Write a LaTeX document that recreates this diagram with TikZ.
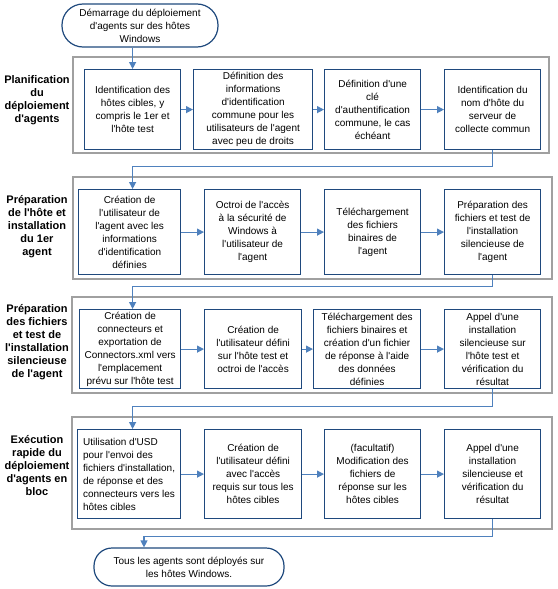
\documentclass[tikz,border=0pt]{standalone}
\usepackage{fontspec}
\newfontfamily\policediag{Liberation Sans}
\usetikzlibrary{arrows.meta}
\definecolor{bleuboite}{RGB}{31,73,125}
\definecolor{bleufleche}{RGB}{79,129,189}
\definecolor{grisgroupe}{RGB}{160,160,160}
\tikzset{
  etape/.style={draw=bleuboite, line width=1.2pt, align=center, anchor=north west,
    inner xsep=2pt, inner ysep=1pt, font=\policediag\fontsize{10}{13}\selectfont},
  terminal/.style={etape, anchor=center},
  groupe/.style={draw=grisgroupe, line width=1.3pt},
  titre/.style={align=center, font=\policediag\bfseries\fontsize{11}{13}\selectfont},
  fleche/.style={draw=bleufleche, line width=1.2pt, -{Triangle[length=7pt,width=7pt]}},
}
\begin{document}
\begin{tikzpicture}[x=1pt,y=-1pt]
        \useasboundingbox (0,0) rectangle (557,589);

        % Groups
        \draw[groupe] (73,57) rectangle (549,153);
        \draw[groupe] (73,177) rectangle (552,279);
        \draw[groupe] (72,297) rectangle (552,393);
        \draw[groupe] (72,417) rectangle (552,529);

        % Start
        \node[terminal, minimum width=156, minimum height=43, rounded corners=21] (debut) at (140,25.5)
            {D\'emarrage du d\'eploiement\\d'agents sur des h\^otes\\Windows};

        % Planification
        \node[titre] (titre1) at (37,100) {Planification\\du\\d\'eploiement\\d'agents};
        \node[etape, minimum width=96, minimum height=80] (p1) at (84,69)
            {Identification des\\h\^otes cibles, y\\compris le 1er et\\l'h\^ote test};
        \node[etape, minimum width=119, minimum height=80] (p2) at (193,69)
            {D\'efinition des\\informations\\d'identification\\commune pour les\\utilisateurs de l'agent\\avec peu de droits};
        \node[etape, minimum width=96, minimum height=80] (p3) at (324,69)
            {D\'efinition d'une\\cl\'e\\d'authentification\\commune, le cas\\\'ech\'eant};
        \node[etape, minimum width=96, minimum height=80] (p4) at (444,69)
            {Identification du\\nom d'h\^ote du\\serveur de\\collecte commun};

        % Preparation of the host
        \node[titre] (titre2) at (37,227) {Pr\'eparation\\de l'h\^ote et\\installation\\du 1er\\agent};
        \node[etape, minimum width=102, minimum height=85] (q1) at (78,189)
            {Cr\'eation de\\l'utilisateur de\\l'agent avec les\\informations\\d'identification\\d\'efinies};
        \node[etape, minimum width=96, minimum height=85] (q2) at (204,189)
            {Octroi de l'acc\`es\\\`a la s\'ecurit\'e de\\Windows \`a\\l'utilisateur de\\l'agent};
        \node[etape, minimum width=96, minimum height=85] (q3) at (324,189)
            {T\'el\'echargement\\des fichiers\\binaires de\\l'agent};
        \node[etape, minimum width=96, minimum height=85] (q4) at (444,189)
            {Pr\'eparation des\\fichiers et test de\\l'installation\\silencieuse de\\l'agent};

        % Preparation of the files
        \node[titre] (titre3) at (37,342) {Pr\'eparation\\des fichiers\\et test de\\l'installation\\silencieuse\\de l'agent};
        \node[etape, minimum width=101, minimum height=79] (r1) at (79,309)
            {Cr\'eation de\\connecteurs et\\exportation de\\Connectors.xml vers\\l'emplacement\\pr\'evu sur l'h\^ote test};
        \node[etape, minimum width=97, minimum height=79] (r2) at (204,309)
            {Cr\'eation de\\l'utilisateur d\'efini\\sur l'h\^ote test et\\octroi de l'acc\`es};
        \node[etape, minimum width=107, minimum height=79] (r3) at (313,309)
            {T\'el\'echargement des\\fichiers binaires et\\cr\'eation d'un fichier\\de r\'eponse \`a l'aide\\des donn\'ees\\d\'efinies};
        \node[etape, minimum width=96, minimum height=79] (r4) at (444,309)
            {Appel d'une\\installation\\silencieuse sur\\l'h\^ote test et\\v\'erification du\\r\'esultat};

        % Bulk deployment
        \node[titre] (titre4) at (37,466) {Ex\'ecution\\rapide du\\d\'eploiement\\d'agents en\\bloc};
        \node[etape, minimum width=103, minimum height=89, align=left] (s1) at (77,429)
            {Utilisation d'USD\\pour l'envoi des\\fichiers d'installation,\\de r\'eponse et des\\connecteurs vers les\\h\^otes cibles};
        \node[etape, minimum width=97, minimum height=89] (s2) at (204,429)
            {Cr\'eation de\\l'utilisateur d\'efini\\avec l'acc\`es\\requis sur tous les\\h\^otes cibles};
        \node[etape, minimum width=96, minimum height=89] (s3) at (324,429)
            {(facultatif)\\Modification des\\fichiers de\\r\'eponse sur les\\h\^otes cibles};
        \node[etape, minimum width=96, minimum height=89] (s4) at (444,429)
            {Appel d'une\\installation\\silencieuse et\\v\'erification du\\r\'esultat};

        % End
        \node[terminal, minimum width=190, minimum height=38, rounded corners=18] (fin) at (189,567)
            {Tous les agents sont d\'eploy\'es sur\\les h\^otes Windows.};

        % Arrows inside the rows
        \draw[fleche] (p1) -- (p2);
        \draw[fleche] (p2) -- (p3);
        \draw[fleche] (p3) -- (p4);
        \draw[fleche] (q1) -- (q2);
        \draw[fleche] (q2) -- (q3);
        \draw[fleche] (q3) -- (q4);
        \draw[fleche] (r1) -- (r2);
        \draw[fleche] (r2) -- (r3);
        \draw[fleche] (r3) -- (r4);
        \draw[fleche] (s1) -- (s2);
        \draw[fleche] (s2) -- (s3);
        \draw[fleche] (s3) -- (s4);

        % Arrows between the rows
        \draw[fleche] (p1.north |- debut.south) -- (p1.north);
        \draw[fleche] (p4.south) -- ++(0,16) -| (p1.north |- q1.north);
        \draw[fleche] (q4.south) -- ++(0,11) -| (p1.north |- r1.north);
        \draw[fleche] (r4.south) -- ++(0,17) -| (p1.north |- s1.north);
        \draw[fleche] (s4.south) -- ++(0,17) -| ([xshift=-45pt]fin.north);
    \end{tikzpicture}
\end{document}
